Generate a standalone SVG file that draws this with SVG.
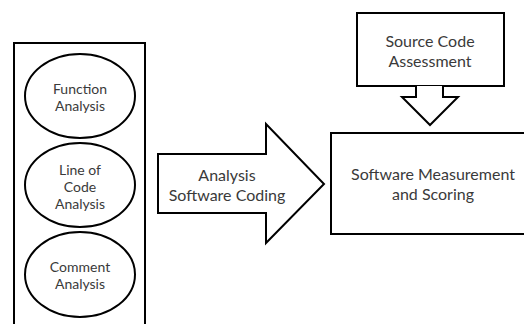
<svg xmlns="http://www.w3.org/2000/svg" width="524" height="324" viewBox="0 0 524 324">
  <style>
    .shape { fill: #fff; stroke: #000; stroke-width: 2; stroke-linejoin: miter; }
    .lbl { font-family: Lato, "Open Sans", "Liberation Sans", sans-serif; fill: #3a3a3a; text-anchor: middle; }
    .sm { font-size: 14px; }
    .md { font-size: 16px; }
  </style>
  <rect width="524" height="324" fill="#fff"/>

  <!-- container of the three analysis methods -->
  <g id="analysis-panel">
    <path class="shape" d="M14,330 V43 H145 V330"/>
  </g>

  <g id="function-analysis">
    <ellipse class="shape" cx="80" cy="96" rx="55" ry="42"/>
    <text class="lbl sm" x="80" y="94">Function</text>
    <text class="lbl sm" x="80" y="111">Analysis</text>
  </g>

  <g id="line-of-code-analysis">
    <ellipse class="shape" cx="80" cy="185" rx="55" ry="42"/>
    <text class="lbl sm" x="80" y="175">Line of</text>
    <text class="lbl sm" x="80" y="192">Code</text>
    <text class="lbl sm" x="80" y="209">Analysis</text>
  </g>

  <g id="comment-analysis">
    <ellipse class="shape" cx="80" cy="274.5" rx="55" ry="42.5"/>
    <text class="lbl sm" x="80" y="272">Comment</text>
    <text class="lbl sm" x="80" y="289">Analysis</text>
  </g>

  <g id="source-code-assessment">
    <rect class="shape" x="357" y="13" width="147" height="73"/>
    <text class="lbl md" x="430" y="47">Source Code</text>
    <text class="lbl md" x="430" y="67">Assessment</text>
  </g>

  <g id="software-measurement">
    <rect class="shape" x="331" y="133" width="200" height="101"/>
    <text class="lbl md" x="433" y="180">Software Measurement</text>
    <text class="lbl md" x="433" y="200">and Scoring</text>
  </g>

  <!-- block arrows between stages -->
  <g id="connectors">
    <g id="coding-arrow">
      <path class="shape" d="M158,154 H266 V124 L324,184 L266,243 V213 H158 Z"/>
      <text class="lbl md" x="227" y="181">Analysis</text>
      <text class="lbl md" x="227" y="201">Software Coding</text>
    </g>
    <path id="assessment-arrow" class="shape" d="M416,86 V97 H402 L430,125 L458,97 H443 V86"/>
  </g>
</svg>
